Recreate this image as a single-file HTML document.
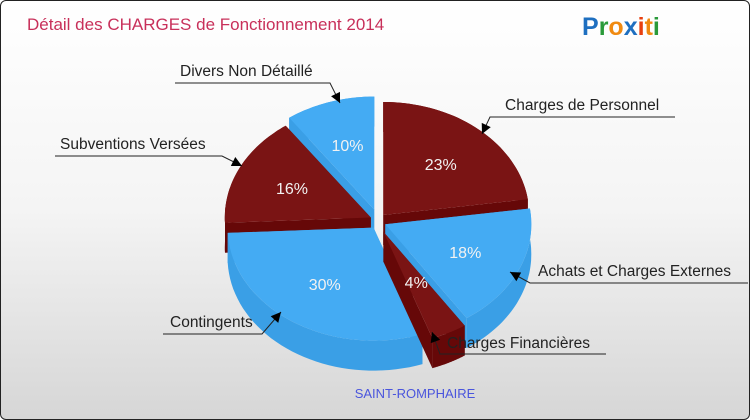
<!DOCTYPE html>
<html><head><meta charset="utf-8"><style>
body{margin:0;width:750px;height:420px;overflow:hidden;font-family:"Liberation Sans",sans-serif}
#wrap{position:absolute;left:0;top:0;width:748px;height:418px;border:1px solid #222;border-radius:6px;background:linear-gradient(#ffffff 0%,#f4f4f4 50%,#d6d6d6 100%)}
</style></head><body>
<div id="wrap">
<svg id="svg" width="750" height="420" viewBox="0 0 750 420" style="position:absolute;left:-1px;top:-1px">
<text x="27" y="30" font-size="17" fill="#c8305a">Détail des CHARGES de Fonctionnement 2014</text>
<g font-size="25" font-weight="bold" font-family="Liberation Sans, sans-serif">
<text x="582" y="35"><tspan fill="#1e6fc0">P</tspan><tspan fill="#2a9a3a">r</tspan><tspan fill="#f08a10">o</tspan><tspan fill="#1e6fc0">x</tspan><tspan fill="#e84010">i</tspan><tspan fill="#f08a10">t</tspan><tspan fill="#2a9a3a">i</tspan></text></g>
<g id="pie"></g>
<g id="labels"></g>
<text x="415" y="398" font-size="13" fill="#4a55dd" text-anchor="middle">SAINT-ROMPHAIRE</text>
</svg></div>
<script>
const categories=["Charges de Personnel","Achats et Charges Externes","Charges Financières","Contingents","Subventions Versées","Divers Non Détaillé"];
const values=[23,18,4,30,16,10];
const colorKinds=["red","blue","red","blue","red","blue"];
const explode=[8,8,12,8,8,12];
const cx=378,cy=221,rx=146,ry=113,depth=30;
const NS="http://www.w3.org/2000/svg";
const pie=document.getElementById('pie');
const total=values.reduce((a,b)=>a+b,0);
const cols={red:{top:"#7a1414",side:"#660808"},blue:{top:"#44abf3",side:"#3a9fe6"}};
function pt(th,ox,oy,dy){return [ox+rx*Math.sin(th),oy-ry*Math.cos(th)+dy];}
let a=0;const slices=[];
values.forEach((v,i)=>{const s=a,e=a+v/total*2*Math.PI;a=e;const m=(s+e)/2;
 const ox=cx+explode[i]*Math.sin(m),oy=cy-explode[i]*Math.cos(m);
 slices.push({i,s,e,m,ox,oy});});
function arcPts(s,e,ox,oy,dy){const p=[];const n=40;for(let k=0;k<=n;k++){p.push(pt(s+(e-s)*k/n,ox,oy,dy));}return p;}
function mk(d,fill,name){const el=document.createElementNS(NS,'path');el.setAttribute('d',d);el.setAttribute('fill',fill);


pie.appendChild(el);}
const order=slices.slice().sort((p,q)=>(-Math.cos(p.m))-(-Math.cos(q.m)));
order.forEach(sl=>{const c=cols[colorKinds[sl.i]];
 const top=arcPts(sl.s,sl.e,sl.ox,sl.oy,0),bot=arcPts(sl.s,sl.e,sl.ox,sl.oy,depth);
 const C=[sl.ox,sl.oy],Cb=[sl.ox,sl.oy+depth];
 const f=p=>p[0].toFixed(1)+","+p[1].toFixed(1);
 mk("M"+f(C)+"L"+f(top[0])+"L"+f(bot[0])+"L"+f(Cb)+"Z",c.side,"slice-wall-"+sl.i);
 mk("M"+f(C)+"L"+f(top[top.length-1])+"L"+f(bot[bot.length-1])+"L"+f(Cb)+"Z",c.side,"slice-wall-"+sl.i);
 mk("M"+top.map(f).join("L")+"L"+bot.slice().reverse().map(f).join("L")+"Z",c.side,"slice-side-"+sl.i);
 mk("M"+f(C)+"L"+top.map(f).join("L")+"Z",c.top,"slice-"+sl.i);
});
slices.forEach(sl=>{const r=sl.i==2?0.5:0.6;const p=[sl.ox+rx*r*Math.sin(sl.m),sl.oy-ry*r*Math.cos(sl.m)+6];
 const t=document.createElementNS(NS,'text');t.setAttribute('x',p[0]);t.setAttribute('y',p[1]);t.setAttribute('fill','#f2f2f2');
 t.setAttribute('font-size','16');t.setAttribute('text-anchor','middle');t.textContent=values[sl.i]+"%";
 
 
 pie.appendChild(t);});
const L=document.getElementById('labels');
const labelDefs=[
 [0,505,110,490,675,117,482,134],
 [1,538,276,530,748,283,510,272],
 [2,447,348,440,606,354,432,332],
 [3,170,327,163,262,334,281,312],
 [4,60,149,55,222,156,242,166],
 [5,180,76,175,330,83,340,103]];
labelDefs.forEach(d=>{const [i,tx,ty,ux1,ux2,uy,ax,ay]=d;
 const t=document.createElementNS(NS,'text');t.setAttribute('x',tx);t.setAttribute('y',ty);t.setAttribute('font-size','15.5');t.setAttribute('fill','#222');t.textContent=categories[i];
 
 
 L.appendChild(t);
 const nearX=(Math.abs(ux1-ax)<Math.abs(ux2-ax))?ux1:ux2;
 const pl=document.createElementNS(NS,'polyline');
 pl.setAttribute('points',(nearX==ux1?ux2:ux1)+","+uy+" "+nearX+","+uy+" "+ax+","+ay);
 pl.setAttribute('fill','none');pl.setAttribute('stroke','#222');pl.setAttribute('stroke-width','1');
 
 
 L.appendChild(pl);
 const ang=Math.atan2(ay-uy,ax-nearX);
 const h=document.createElementNS(NS,'polygon');const s=10,w=5;
 const bx=ax-s*Math.cos(ang),by=ay-s*Math.sin(ang);
 h.setAttribute('points',ax+","+ay+" "+(bx-w*Math.sin(ang))+","+(by+w*Math.cos(ang))+" "+(bx+w*Math.sin(ang))+","+(by-w*Math.cos(ang)));
 h.setAttribute('fill','#000');
 
 
 L.appendChild(h);});
</script>
</body></html>
